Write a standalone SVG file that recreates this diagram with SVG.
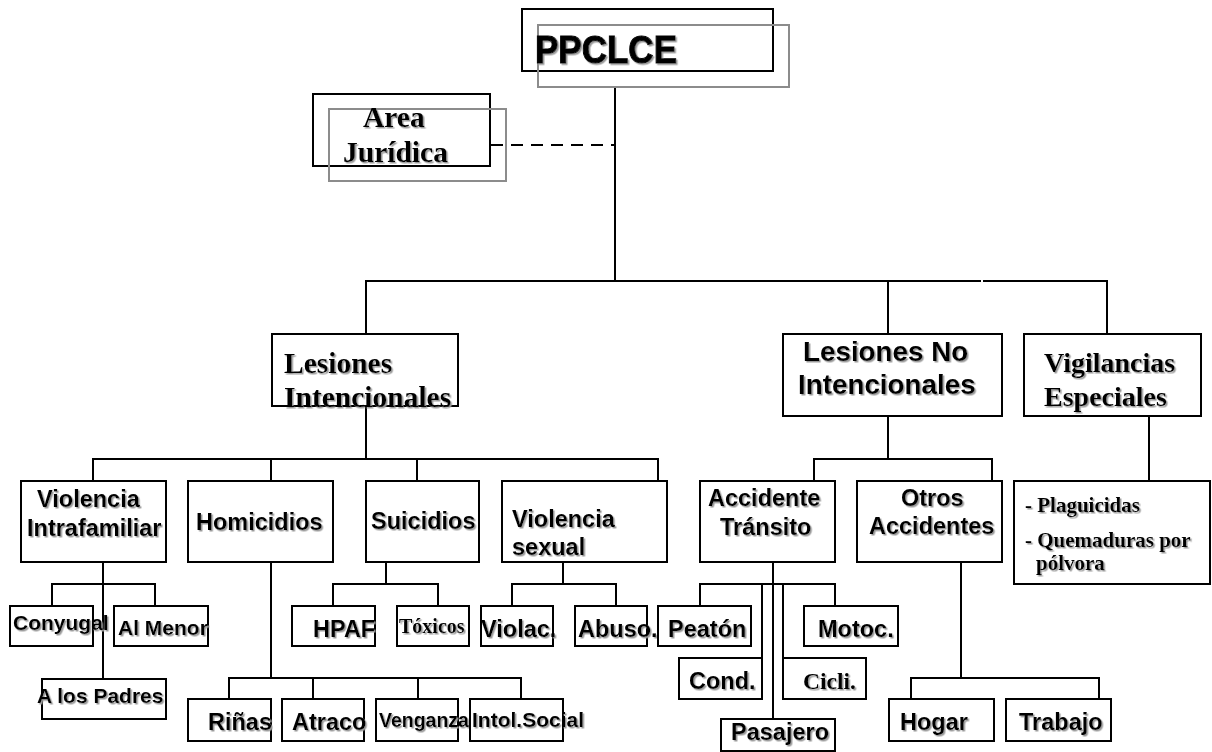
<svg xmlns="http://www.w3.org/2000/svg" width="1212" height="752" viewBox="0 0 1212 752">
<defs>
<filter id="sh" x="-5%" y="-20%" width="115%" height="150%">
<feDropShadow dx="1.5" dy="1.5" stdDeviation="0.4" flood-color="#9a9a9a" flood-opacity="1"/>
</filter>
<style>
.box{fill:#ffffff;stroke:#000;stroke-width:2}
.obox{fill:none;stroke:#000;stroke-width:2}
.gbox{fill:none;stroke:#8c8c8c;stroke-width:2}
.ln{fill:none;stroke:#000;stroke-width:2}
.dash{fill:none;stroke:#000;stroke-width:2;stroke-dasharray:12 8}
.s{font-family:"Liberation Sans",Arial,sans-serif;font-weight:bold;fill:#000;filter:url(#sh)}
.t{font-family:"Liberation Serif","Times New Roman",serif;font-weight:bold;fill:#000;filter:url(#sh)}
.m{font-size:23.5px}
.n{font-size:21px}
</style>
</defs>
<rect width="1212" height="752" fill="#ffffff"/>

<g id="connectors">
<line class="ln" x1="615" y1="87" x2="615" y2="281"/>
<line class="dash" x1="491" y1="145" x2="615" y2="145"/>
<polyline class="ln" points="366,334 366,281 981,281"/>
<polyline class="ln" points="983,281 1107,281 1107,334"/>
<line class="ln" x1="888" y1="281" x2="888" y2="334"/>
<line class="ln" x1="366" y1="406" x2="366" y2="459"/>
<polyline class="ln" points="93,481 93,459 658,459 658,481"/>
<line class="ln" x1="271" y1="459" x2="271" y2="481"/>
<line class="ln" x1="417" y1="459" x2="417" y2="481"/>
<line class="ln" x1="888" y1="416" x2="888" y2="459"/>
<polyline class="ln" points="814,481 814,459 992,459 992,481"/>
<line class="ln" x1="1149" y1="416" x2="1149" y2="481"/>
<line class="ln" x1="103" y1="562" x2="103" y2="679"/>
<polyline class="ln" points="52,606 52,584 155,584 155,606"/>
<line class="ln" x1="271" y1="562" x2="271" y2="678"/>
<polyline class="ln" points="229,699 229,678 521,678 521,699"/>
<line class="ln" x1="313" y1="678" x2="313" y2="699"/>
<line class="ln" x1="418" y1="678" x2="418" y2="699"/>
<line class="ln" x1="386" y1="562" x2="386" y2="584"/>
<polyline class="ln" points="333,606 333,584 438,584 438,606"/>
<line class="ln" x1="563" y1="562" x2="563" y2="584"/>
<polyline class="ln" points="512,606 512,584 616,584 616,606"/>
<line class="ln" x1="773" y1="562" x2="773" y2="719"/>
<polyline class="ln" points="700,606 700,584 835,584 835,606"/>
<line class="ln" x1="762" y1="584" x2="762" y2="688"/>
<line class="ln" x1="783" y1="584" x2="783" y2="697"/>
<line class="ln" x1="961" y1="562" x2="961" y2="678"/>
<polyline class="ln" points="911,699 911,678 1099,678 1099,699"/>
</g>

<g id="n-ppclce">
<rect class="obox" x="522" y="9" width="251" height="62"/>
<rect class="gbox" x="538" y="25" width="251" height="62"/>
<text class="s" x="535" y="63" font-size="39" textLength="142" lengthAdjust="spacingAndGlyphs" stroke="#000" stroke-width="1">PPCLCE</text>
</g>
<g id="n-area">
<rect class="obox" x="313" y="94" width="177" height="72"/>
<rect class="gbox" x="329" y="109" width="177" height="72"/>
<text class="t" font-size="29.5"><tspan x="363" y="127">Area</tspan><tspan x="343" y="162">Jurídica</tspan></text>
</g>
<g id="n-lesint">
<rect class="box" x="272" y="334" width="186" height="72"/>
<text class="t" font-size="29.5"><tspan x="284" y="373">Lesiones</tspan><tspan x="284" y="407">Intencionales</tspan></text>
</g>
<g id="n-lesnoint">
<rect class="box" x="783" y="334" width="219" height="82"/>
<text class="s" font-size="27.8"><tspan x="803" y="361">Lesiones No</tspan><tspan x="798" y="394">Intencionales</tspan></text>
</g>
<g id="n-vig">
<rect class="box" x="1024" y="334" width="177" height="82"/>
<text class="t" font-size="28"><tspan x="1044" y="372">Vigilancias</tspan><tspan x="1044" y="406">Especiales</tspan></text>
</g>
<g id="n-vi">
<rect class="box" x="21" y="481" width="145" height="81"/>
<text class="s m"><tspan x="37" y="507">Violencia</tspan><tspan x="27" y="536">Intrafamiliar</tspan></text>
</g>
<g id="n-hom">
<rect class="box" x="188" y="481" width="145" height="81"/>
<text class="s m" x="196" y="530">Homicidios</text>
</g>
<g id="n-sui">
<rect class="box" x="366" y="481" width="113" height="81"/>
<text class="s m" x="371" y="529">Suicidios</text>
</g>
<g id="n-vs">
<rect class="box" x="502" y="481" width="165" height="81"/>
<text class="s m"><tspan x="512" y="527">Violencia</tspan><tspan x="512" y="555">sexual</tspan></text>
</g>
<g id="n-at">
<rect class="box" x="700" y="481" width="135" height="81"/>
<text class="s m"><tspan x="708" y="506">Accidente</tspan><tspan x="720" y="535">Tránsito</tspan></text>
</g>
<g id="n-oa">
<rect class="box" x="857" y="481" width="145" height="81"/>
<text class="s m"><tspan x="901" y="506">Otros</tspan><tspan x="869" y="534">Accidentes</tspan></text>
</g>
<g id="n-plag">
<rect class="box" x="1014" y="481" width="196" height="103"/>
<text class="t" font-size="21"><tspan x="1025" y="512">- Plaguicidas</tspan><tspan x="1025" y="547">- Quemaduras por</tspan><tspan x="1036" y="570">pólvora</tspan></text>
</g>
<g id="n-conyugal">
<rect class="box" x="10" y="606" width="83" height="40"/>
<text class="s n" x="13" y="630">Conyugal</text>
</g>
<g id="n-almenor">
<rect class="box" x="114" y="606" width="94" height="40"/>
<text class="s n" x="118" y="635">Al Menor</text>
</g>
<g id="n-padres">
<rect class="box" x="42" y="679" width="124" height="40"/>
<text class="s n" x="37" y="703">A los Padres</text>
</g>
<g id="n-hpaf">
<rect class="box" x="292" y="606" width="83" height="40"/>
<text class="s m" x="313" y="637">HPAF</text>
</g>
<g id="n-toxicos">
<rect class="box" x="397" y="606" width="72" height="40"/>
<text class="t" font-size="20" x="399" y="633">Tóxicos</text>
</g>
<g id="n-violac">
<rect class="box" x="481" y="606" width="72" height="40"/>
<text class="s m" x="481" y="637">Violac.</text>
</g>
<g id="n-abuso">
<rect class="box" x="575" y="606" width="72" height="40"/>
<text class="s m" x="578" y="637">Abuso.</text>
</g>
<g id="n-peaton">
<rect class="box" x="658" y="606" width="93" height="40"/>
<text class="s m" x="668" y="637">Peatón</text>
</g>
<g id="n-motoc">
<rect class="box" x="804" y="606" width="94" height="40"/>
<text class="s m" x="818" y="637">Motoc.</text>
</g>
<g id="n-cond">
<rect class="box" x="679" y="658" width="83" height="41"/>
<text class="s m" x="689" y="689">Cond.</text>
</g>
<g id="n-cicli">
<rect class="box" x="783" y="658" width="83" height="41"/>
<text class="t" font-size="23.5" x="803" y="689">Cicli.</text>
</g>
<g id="n-pasajero">
<rect class="box" x="721" y="719" width="114" height="32"/>
<text class="s m" x="731" y="740">Pasajero</text>
</g>
<g id="n-rinas">
<rect class="box" x="188" y="699" width="83" height="42"/>
<text class="s m" x="208" y="730">Riñas</text>
</g>
<g id="n-atraco">
<rect class="box" x="282" y="699" width="82" height="42"/>
<text class="s m" x="292" y="730">Atraco</text>
</g>
<g id="n-venganza">
<rect class="box" x="376" y="699" width="82" height="42"/>
<text class="s" font-size="19.5" x="379" y="727">Venganza</text>
</g>
<g id="n-intol">
<rect class="box" x="470" y="699" width="93" height="42"/>
<text class="s n" x="472" y="727">Intol.Social</text>
</g>
<g id="n-hogar">
<rect class="box" x="889" y="699" width="105" height="42"/>
<text class="s m" x="900" y="730">Hogar</text>
</g>
<g id="n-trabajo">
<rect class="box" x="1006" y="699" width="105" height="42"/>
<text class="s m" x="1019" y="730">Trabajo</text>
</g>
</svg>
